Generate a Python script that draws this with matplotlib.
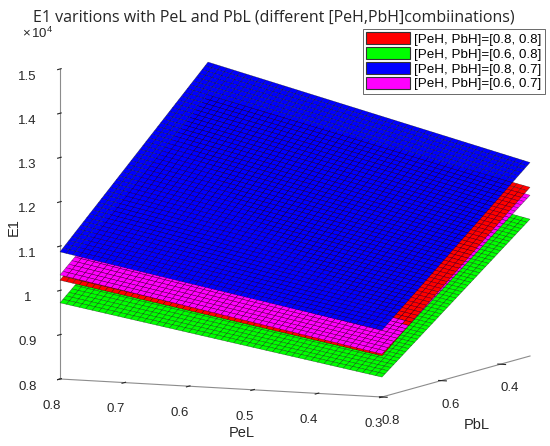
import numpy as np
import matplotlib
matplotlib.use('Agg')
import matplotlib.pyplot as plt
from matplotlib.patches import Patch
from matplotlib.ticker import FormatStrFormatter
from mpl_toolkits.mplot3d.art3d import Poly3DCollection

plt.rcParams['mathtext.fontset'] = 'custom'
plt.rcParams['mathtext.rm'] = 'Liberation Sans'
plt.rcParams['mathtext.it'] = 'Liberation Sans:italic'
plt.rcParams['axes3d.automargin'] = False

# ---- data -------------------------------------------------------------
pel = np.linspace(0.3, 0.8, 51)          # PeL grid
pbl = np.linspace(0.3, 0.8, 51)          # PbL grid
series_labels = ['[PeH, PbH]=[0.8, 0.8]', '[PeH, PbH]=[0.6, 0.8]',
                 '[PeH, PbH]=[0.8, 0.7]', '[PeH, PbH]=[0.6, 0.7]']
series_colors = ['#ff0000', '#00ff00', '#0000ff', '#ff00ff']
# E1 read at the corners (PeL,PbL) = (0.8,0.8), (0.3,0.8), (0.3,0.3), (0.8,0.3)
e1_red = [10230, 8930, 11810, 13480]
e1_green = [9720, 8450, 11090, 12710]
e1_blue = [10870, 9510, 12370, 14230]
e1_magenta = [10350, 8970, 11630, 13450]
pel_ticks = [0.3, 0.4, 0.5, 0.6, 0.7, 0.8]
pbl_ticks = [0.4, 0.6, 0.8]
e1_ticks = [0.8, 0.9, 1.0, 1.1, 1.2, 1.3, 1.4, 1.5]

# ---- figure -----------------------------------------------------------
W, H = 550, 446
fig = plt.figure(figsize=(W / 100, H / 100), dpi=100)
ax = fig.add_axes([0.0245, 0.0022, 1.0, 1.0], projection='3d')
ax.set_proj_type('ortho')
ax.view_init(elev=7.15, azim=114.2)

X, Y = np.meshgrid(pel, pbl)
U = (0.8 - X) / 0.5
V = (0.8 - Y) / 0.5

verts = []
fcols = []
for vals, col in zip([e1_red, e1_green, e1_blue, e1_magenta], series_colors):
    a, b, c, d = vals
    Z = (a * (1 - U) * (1 - V) + b * U * (1 - V) + c * U * V + d * (1 - U) * V) / 1e4
    p00 = np.stack([X[:-1, :-1], Y[:-1, :-1], Z[:-1, :-1]], -1)
    p10 = np.stack([X[:-1, 1:], Y[:-1, 1:], Z[:-1, 1:]], -1)
    p11 = np.stack([X[1:, 1:], Y[1:, 1:], Z[1:, 1:]], -1)
    p01 = np.stack([X[1:, :-1], Y[1:, :-1], Z[1:, :-1]], -1)
    q = np.stack([p00, p10, p11, p01], -2).reshape(-1, 4, 3)
    verts.append(q)
    fcols += [col] * len(q)
verts = np.concatenate(verts)
coll = Poly3DCollection(verts, facecolors=fcols, edgecolors=(0, 0, 0, 0.55),
                        linewidths=0.35)
ax.add_collection3d(coll, autolim=False)
coll.set_clip_on(False)

ax.set_xlim(0.3, 0.8, view_margin=0)
ax.set_ylim(0.3, 0.8, view_margin=0)
ax.set_zlim(0.8, 1.5, view_margin=0)
ax.set_xticks(pel_ticks)
ax.set_yticks(pbl_ticks)
ax.set_zticks(e1_ticks)
ax.zaxis.set_ticks_position('upper')
ax.zaxis.set_label_position('upper')
ax.xaxis.set_major_formatter(FormatStrFormatter('%g'))
ax.yaxis.set_major_formatter(FormatStrFormatter('%g'))
ax.zaxis.set_major_formatter(FormatStrFormatter('%g'))
ax.grid(False)
for axis in (ax.xaxis, ax.yaxis, ax.zaxis):
    axis.pane.set_visible(False)
    axis.line.set_color('#8c8c8c')
    axis.line.set_linewidth(0.8)
    axis.set_tick_params(labelsize=9.5, colors='#262626')
    for t in axis.get_ticklabels():
        t.set_fontfamily('Liberation Sans')
ax.xaxis.set_tick_params(pad=1.9)
ax.yaxis.set_tick_params(labelleft=False, labelbottom=False)

# PbL tick labels placed just below the PbL axis (PeL = 0.3 edge)
for t in pbl_ticks:
    ax.text(0.3 - 0.014, t, 0.8 - 0.053, '%g' % t, ha='center', va='center',
            fontsize=9.5, family='Liberation Sans', color='#262626')

# ---- layout calibration of the 3D box (pixel placement of the box corners)
box_px = np.array([[60, 379], [382, 397], [530, 356], [60, 69]], float)
box_pts = np.array([[0.8, 0.8, 0.8], [0.3, 0.8, 0.8], [0.3, 0.3, 0.8], [0.8, 0.8, 1.5]])


def project():
    fig.canvas.draw()
    M = ax.get_proj()
    P = np.column_stack([box_pts, np.ones(len(box_pts))]) @ M.T
    xy = P[:, :2] / P[:, 3:4]
    disp = ax.transData.transform(xy)
    disp[:, 1] = H - disp[:, 1]
    return disp


def edge_lengths(p):
    return np.array([np.linalg.norm(p[1] - p[0]), np.linalg.norm(p[2] - p[1]),
                     np.linalg.norm(p[3] - p[0])])


L = np.array([1.0, 0.928, 0.8905])
zoom = 1.2457
for _ in range(3):
    ax.set_box_aspect(L, zoom=zoom)
    r = edge_lengths(box_px) / edge_lengths(project())
    Lnew = L * r
    zoom = zoom * np.linalg.norm(Lnew) / np.linalg.norm(L)
    L = Lnew
ax.set_box_aspect(L, zoom=zoom)
off = (box_px - project()).mean(0)
pos = ax.get_position(original=True)
ax.set_position([pos.x0 + off[0] / W, pos.y0 - off[1] / H, pos.width, pos.height])

# ---- texts ----------------------------------------------------------------
fig.text(0.498, 0.96, 'E1 varitions with PeL and PbL (different [PeH,PbH]combiinations)',
         ha='center', va='center', fontsize=11.5, family='Open Sans', color='#262626')
fig.text(0.04, 0.914, r'$\times\,10^{4}$', fontsize=9.5, color='#262626')
fig.text(0.025, 0.49, 'E1', rotation=90, ha='center', va='center', fontsize=10.5,
         family='Liberation Sans', color='#262626')
fig.text(0.44, 0.029, 'PeL', ha='center', va='center', fontsize=10.5,
         family='Liberation Sans', color='#262626')
fig.text(0.867, 0.047, 'PbL', ha='center', va='center', fontsize=10.5,
         family='Liberation Sans', color='#262626')

handles = [Patch(facecolor=c, edgecolor='#333333', linewidth=0.8) for c in series_colors]
leg = fig.legend(handles, series_labels, loc='upper right', bbox_to_anchor=(0.991, 0.935),
                 prop={'family': 'Liberation Sans', 'size': 9.6}, frameon=True,
                 fancybox=False, edgecolor='#262626', handlelength=3.3,
                 handleheight=0.95, borderpad=0.25, labelspacing=0.12,
                 handletextpad=0.3, borderaxespad=0)
leg.get_frame().set_linewidth(0.6)

fig.savefig('out.png', dpi=100)
